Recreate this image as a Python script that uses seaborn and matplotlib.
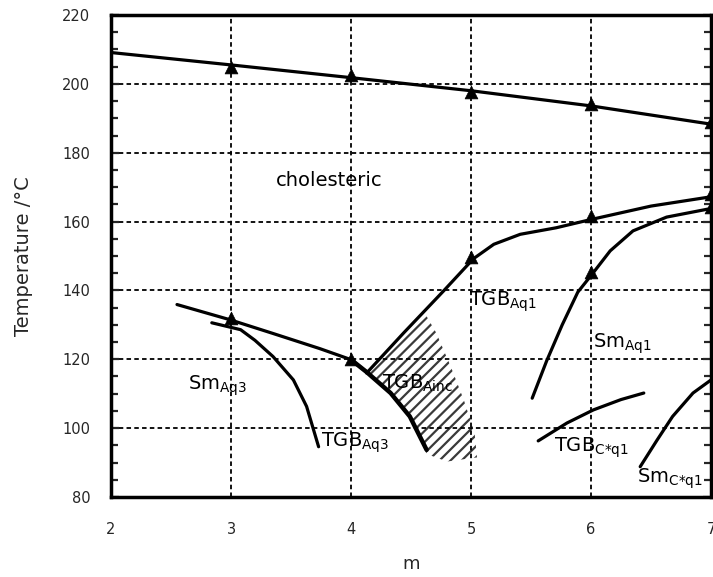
import matplotlib
matplotlib.use("Agg")
import matplotlib.pyplot as plt
from matplotlib.ticker import MultipleLocator
import pandas as pd
import seaborn as sns

# ---------------- data ----------------
# clearing line (cholesteric -> isotropic)
clear_m = [2.0, 3.0, 4.0, 5.0, 6.0, 7.0]
clear_T = [209.1, 205.5, 201.8, 198.0, 193.6, 188.3]
clear_pts_m = [3, 4, 5, 6, 7]
clear_pts_T = [204.8, 202.6, 197.6, 194.2, 189.0]

# cholesteric / TGB_Aq1 boundary
chol_m = [4.13, 4.44, 4.77, 5.02, 5.19, 5.41, 5.71, 6.0, 6.5, 7.0]
chol_T = [116.0, 127.7, 139.8, 149.2, 153.4, 156.3, 158.2, 160.6, 164.5, 167.2]
chol_pts_m = [5, 6, 7]
chol_pts_T = [149.8, 161.5, 168.0]

# TGB_Aq1 / Sm_Aq1 boundary
smaq1_m = [5.51, 5.63, 5.76, 5.89, 6.02, 6.16, 6.35, 6.63, 7.0]
smaq1_T = [108.7, 119.5, 130.0, 139.5, 145.2, 151.5, 157.3, 161.3, 163.8]
smaq1_pts_m = [6, 7]
smaq1_pts_T = [145.4, 164.3]

# TGB_C*q1 boundary
tgbc_m = [5.56, 5.80, 6.02, 6.25, 6.44]
tgbc_T = [96.3, 101.5, 105.3, 108.3, 110.2]

# Sm_C*q1 boundary
smc_m = [6.41, 6.55, 6.68, 6.85, 7.0]
smc_T = [88.8, 96.5, 103.4, 110.2, 114.0]

# cholesteric / Sm_Aq3 (upper-left) boundary
upper_m = [2.55, 2.99, 3.35, 3.74, 4.0, 4.13]
upper_T = [135.9, 131.5, 127.5, 123.1, 119.9, 116.3]
upper_pts_m = [3, 4]
upper_pts_T = [132.0, 120.0]

# TGB_Ainc left boundary (thick)
inc_m = [4.0, 4.13, 4.33, 4.49, 4.63]
inc_T = [119.9, 116.3, 110.2, 103.4, 93.7]

# Sm_Aq3 / TGB_Aq3 boundary
smaq3_m = [2.84, 3.08, 3.2, 3.35, 3.52, 3.63, 3.73]
smaq3_T = [130.6, 128.6, 125.5, 120.8, 114.0, 106.3, 94.6]

# hatched TGB_Ainc region
hatch_m = [4.15, 4.40, 4.63, 4.71, 4.83, 4.94, 5.03, 5.05, 4.80, 4.63, 4.49, 4.33]
hatch_T = [116.0, 125.0, 132.5, 127.7, 118.0, 108.2, 98.6, 91.5, 90.3, 92.5, 103.4, 110.2]

# phase labels
label_text = ["cholesteric",
              r"TGB$_{\mathregular{Aq1}}$",
              r"Sm$_{\mathregular{Aq1}}$",
              r"Sm$_{\mathregular{Aq3}}$",
              r"TGB$_{\mathregular{Ainc}}$",
              r"TGB$_{\mathregular{Aq3}}$",
              r"TGB$_{\mathregular{C{*}q1}}$",
              r"Sm$_{\mathregular{C{*}q1}}$"]
label_m = [3.37, 4.98, 6.02, 2.64, 4.26, 3.75, 5.69, 6.38]
label_T = [170.2, 135.6, 123.3, 111.2, 111.4, 94.6, 93.2, 84.2]

x_ticks = [2, 3, 4, 5, 6, 7]
y_ticks = [80, 100, 120, 140, 160, 180, 200, 220]

# ---------------- style ----------------
sns.set_style("white")
plt.rcParams["font.family"] = ["DejaVu Sans"]
plt.rcParams["hatch.linewidth"] = 1.6
plt.rcParams["hatch.color"] = "#3a3a3a"

fig = plt.figure(figsize=(7.13, 5.77), dpi=100)
ax = fig.add_axes([111 / 713, 80 / 577, 600 / 713, 482 / 577])

# hatched region
ax.fill(hatch_m, hatch_T, facecolor="none", edgecolor="#3a3a3a",
        hatch="///", linewidth=0, zorder=1)

def draw_line(m, T, lw=2.3):
    df = pd.DataFrame({"m": m, "T": T})
    sns.lineplot(data=df, x="m", y="T", sort=False, estimator=None,
                 color="black", linewidth=lw, ax=ax, zorder=3)

draw_line(clear_m, clear_T)
draw_line(chol_m, chol_T)
draw_line(smaq1_m, smaq1_T)
draw_line(tgbc_m, tgbc_T)
draw_line(smc_m, smc_T)
draw_line(upper_m, upper_T)
draw_line(inc_m, inc_T, lw=3.2)
draw_line(smaq3_m, smaq3_T)

pts = pd.DataFrame({
    "m": clear_pts_m + chol_pts_m + smaq1_pts_m + upper_pts_m,
    "T": clear_pts_T + chol_pts_T + smaq1_pts_T + upper_pts_T,
})
sns.scatterplot(data=pts, x="m", y="T", marker="^", s=85, color="black",
                edgecolor="black", linewidth=0.5, ax=ax, zorder=4)

for txt, xm, yt in zip(label_text, label_m, label_T):
    ax.text(xm, yt, txt, fontsize=14, ha="left", va="baseline",
            color="black", zorder=5)

# ---------------- axes ----------------
ax.set_xlim(2, 7)
ax.set_ylim(80, 220)
ax.set_xticks(x_ticks)
ax.set_yticks(y_ticks)
ax.yaxis.set_minor_locator(MultipleLocator(5))
ax.grid(True, which="major", color="black", linestyle=(0, (2.5, 1.8)),
        linewidth=1.3)
ax.set_axisbelow(False)

ax.tick_params(axis="x", which="both", length=0, pad=18, labelsize=10.5)
ax.tick_params(axis="y", which="both", direction="in", left=True,
               right=True, pad=15, labelsize=10.5)
ax.tick_params(axis="y", which="minor", length=5, width=1.6)
ax.tick_params(axis="y", which="major", length=6, width=1.6)

for s in ax.spines.values():
    s.set_linewidth(2.5)
    s.set_color("black")
    s.set_zorder(6)

ax.set_xlabel("m", fontsize=13, labelpad=13)
ax.set_ylabel("Temperature /°C", fontsize=14, labelpad=21)

fig.savefig("out.png", dpi=100)
